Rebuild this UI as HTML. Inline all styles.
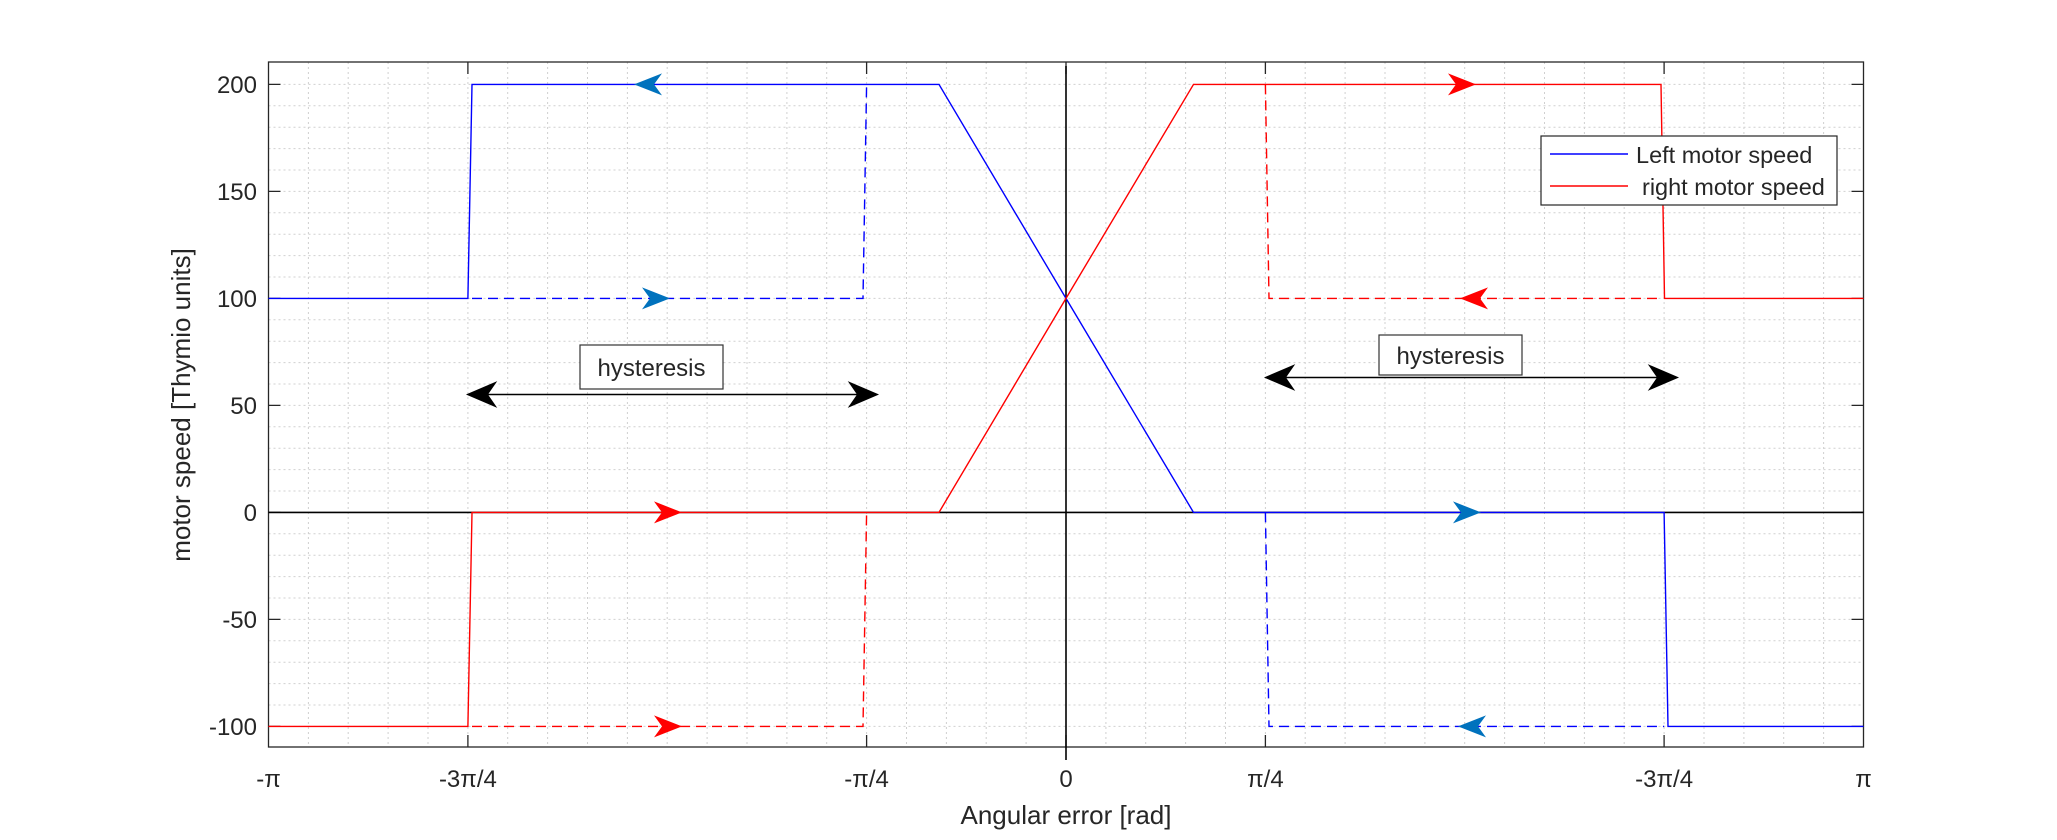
<!DOCTYPE html>
<html><head><meta charset="utf-8"><style>
html,body{margin:0;padding:0;background:#fff}
svg{display:block}
text{font-family:"Liberation Sans",Arial,sans-serif;fill:#262626}
</style></head><body>
<svg width="2057" height="840" viewBox="0 0 2057 840" xmlns="http://www.w3.org/2000/svg">
<defs>
<g id="ah"><path d="M0,0 L-28,-11 L-20,0 L-28,11 Z"/></g>
</defs>
<rect x="0" y="0" width="2057" height="840" fill="#fff"/>
<rect x="268.5" y="62" width="1595" height="685" fill="#fff"/>
<g id="grid" stroke="#d0d0d0" stroke-width="1" stroke-dasharray="2,3">
<path d="M308.4,62V747M348.2,62V747M388.1,62V747M428,62V747M467.9,62V747M507.7,62V747M547.6,62V747M587.5,62V747M627.4,62V747M667.2,62V747M707.1,62V747M747,62V747M786.9,62V747M826.7,62V747M866.6,62V747M906.5,62V747M946.4,62V747M986.2,62V747M1026.1,62V747M1066,62V747M1105.9,62V747M1145.7,62V747M1185.6,62V747M1225.5,62V747M1265.4,62V747M1305.2,62V747M1345.1,62V747M1385,62V747M1424.9,62V747M1464.7,62V747M1504.6,62V747M1544.5,62V747M1584.4,62V747M1624.2,62V747M1664.1,62V747M1704,62V747M1743.9,62V747M1783.7,62V747M1823.6,62V747"/>
<path d="M268.5,84.4H1863.5M268.5,105.8H1863.5M268.5,127.2H1863.5M268.5,148.6H1863.5M268.5,170H1863.5M268.5,191.4H1863.5M268.5,212.8H1863.5M268.5,234.2H1863.5M268.5,255.6H1863.5M268.5,277H1863.5M268.5,298.4H1863.5M268.5,319.8H1863.5M268.5,341.2H1863.5M268.5,362.6H1863.5M268.5,384H1863.5M268.5,405.4H1863.5M268.5,426.8H1863.5M268.5,448.2H1863.5M268.5,469.6H1863.5M268.5,491H1863.5M268.5,512.4H1863.5M268.5,533.8H1863.5M268.5,555.2H1863.5M268.5,576.6H1863.5M268.5,598H1863.5M268.5,619.4H1863.5M268.5,640.8H1863.5M268.5,662.2H1863.5M268.5,683.6H1863.5M268.5,705H1863.5M268.5,726.4H1863.5"/>
</g>
<rect x="268.5" y="62" width="1595" height="685" fill="none" stroke="#262626" stroke-width="1.3"/>
<g stroke="#262626" stroke-width="1.3">
<path d="M268.5,84.4h12M268.5,191.4h12M268.5,298.4h12M268.5,405.4h12M268.5,512.4h12M268.5,619.4h12M268.5,726.4h12"/>
<path d="M1863.5,84.4h-12M1863.5,191.4h-12M1863.5,298.4h-12M1863.5,405.4h-12M1863.5,512.4h-12M1863.5,619.4h-12M1863.5,726.4h-12"/>
<path d="M467.9,747v-12M866.6,747v-12M1066,747v-12M1265.4,747v-12M1664.1,747v-12"/>
<path d="M467.9,62v12M866.6,62v12M1066,62v12M1265.4,62v12M1664.1,62v12"/>
</g>
<path d="M1066,66V760" stroke="#000" stroke-width="1.6"/>
<path d="M268.5,512.4H1863.5" stroke="#000" stroke-width="1.6"/>
<g font-size="24" text-anchor="end">
<text x="257" y="93">200</text>
<text x="257" y="200">150</text>
<text x="257" y="307">100</text>
<text x="257" y="414">50</text>
<text x="257" y="521">0</text>
<text x="257" y="628">-50</text>
<text x="257" y="735">-100</text>
</g>
<g font-size="24" text-anchor="middle">
<text x="268.5" y="787">-π</text>
<text x="467.9" y="787">-3π/4</text>
<text x="866.6" y="787">-π/4</text>
<text x="1066" y="787">0</text>
<text x="1265.4" y="787">π/4</text>
<text x="1664.1" y="787">-3π/4</text>
<text x="1863.5" y="787">π</text>
</g>
<text x="1066" y="824" font-size="26" text-anchor="middle">Angular error [rad]</text>
<text transform="translate(190,405) rotate(-90)" font-size="26" text-anchor="middle">motor speed [Thymio units]</text>

<g fill="none" stroke="#0000ff" stroke-width="1.4">
<path d="M268.5,298.4H467.9L472,84.4H939L1066,298.4L1193.5,512.4H1664.1L1668,726.4H1863.5"/>
<path stroke-dasharray="10,6" d="M472,298.4H863L866.6,84.4"/>
<path stroke-dasharray="10,6" d="M1265.4,512.4L1269,726.4H1664.1"/>
</g>
<g fill="none" stroke="#ff0000" stroke-width="1.4">
<path d="M268.5,726.4H467.9L472,512.4H939L1066,298.4L1193.5,84.4H1661L1664.5,298.4H1863.5"/>
<path stroke-dasharray="10,6" d="M472,726.4H863L866.6,512.4"/>
<path stroke-dasharray="10,6" d="M1265.4,84.4L1269,298.4H1661"/>
</g>
<g fill="#0072bd">
<use href="#ah" transform="translate(634,84.4) rotate(180)"/>
<use href="#ah" transform="translate(670,298.4)"/>
<use href="#ah" transform="translate(1481,512.4)"/>
<use href="#ah" transform="translate(1458,726.4) rotate(180)"/>
</g>
<g fill="#ff0000">
<use href="#ah" transform="translate(1476,84.4)"/>
<use href="#ah" transform="translate(1460,298.4) rotate(180)"/>
<use href="#ah" transform="translate(682,512.4)"/>
<use href="#ah" transform="translate(682,726.4)"/>
</g>
<g stroke="#000" stroke-width="1.6" fill="#000">
<path d="M472,394.5H873" fill="none"/>
<path d="M468,394.5 L495,383 L487,394.5 L495,406 Z"/>
<path d="M877,394.5 L850,383 L858,394.5 L850,406 Z"/>
<path d="M1270,377.5H1673" fill="none"/>
<path d="M1266,377.5 L1293,366 L1285,377.5 L1293,389 Z"/>
<path d="M1677,377.5 L1650,366 L1658,377.5 L1650,389 Z"/>
</g>
<rect x="580" y="345" width="143" height="44" fill="#fff" stroke="#333" stroke-width="1.2"/>
<text x="651.5" y="376" font-size="24" text-anchor="middle" fill="#000">hysteresis</text>
<rect x="1379" y="335" width="143" height="40" fill="#fff" stroke="#333" stroke-width="1.2"/>
<text x="1450.5" y="364" font-size="24" text-anchor="middle" fill="#000">hysteresis</text>
<rect x="1541" y="136" width="296" height="69" fill="#fff" stroke="#262626" stroke-width="1.2"/>
<path d="M1550,154H1628" stroke="#0000ff" stroke-width="1.4"/>
<path d="M1550,186H1628" stroke="#ff0000" stroke-width="1.4"/>
<text x="1636" y="163" font-size="23.5" fill="#000">Left motor speed</text>
<text x="1642" y="195" font-size="23.5" fill="#000">right motor speed</text>
</svg>
</body></html>
